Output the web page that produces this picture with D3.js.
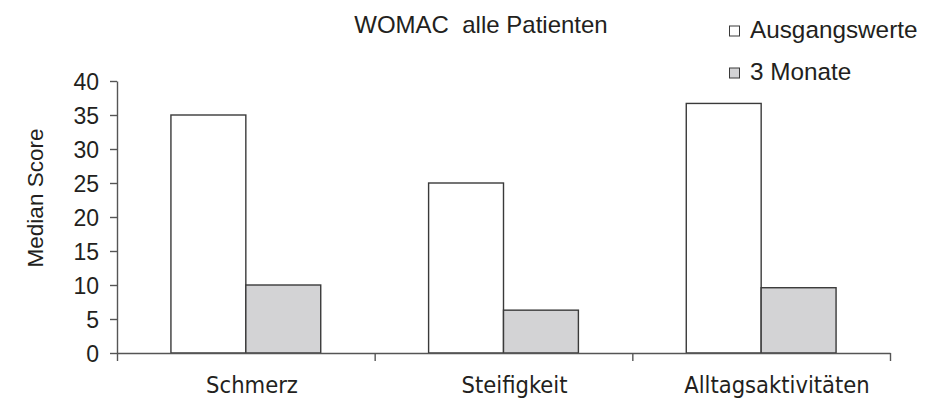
<!DOCTYPE html>
<html>
<head>
<meta charset="utf-8">
<script src="https://cdn.jsdelivr.net/npm/d3@7"></script>
<style>
  html, body { margin: 0; padding: 0; background: #fff; }
  svg { display: block; }
  .sans { font-family: "Liberation Sans", Arial, sans-serif; fill: #231f20; }
  .cond { font-family: "DejaVu Sans Condensed", "DejaVu Sans", sans-serif; font-stretch: condensed; fill: #231f20; }
</style>
</head>
<body>
<svg id="chart" width="943" height="412"></svg>
<script>
// WOMAC median scores, all patients
const categories = ["Schmerz", "Steifigkeit", "Alltagsaktivitäten"];
const seriesNames = ["Ausgangswerte", "3 Monate"];
const baseline = [35, 25, 36.7];
const threeMonths = [10, 6.3, 9.6];
const yTicks = [0, 5, 10, 15, 20, 25, 30, 35, 40];

const seriesValues = [baseline, threeMonths];
const fills = ["#ffffff", "#d3d3d5"];

const svg = d3.select("#chart");
const plotLeft = 117, plotRight = 890, plotTop = 81, plotBottom = 353;

const y = d3.scaleLinear().domain([0, 40]).range([plotBottom, plotTop]);
const x0 = d3.scaleBand().domain(categories).range([plotLeft, plotRight]).padding(0);
const x1 = d3.scaleBand().domain(seriesNames).range([0, x0.bandwidth()])
  .paddingInner(0).paddingOuter(0.72);

// category boundaries for the x axis ticks
const xEdges = d3.scaleLinear().domain([0, categories.length]).range([plotLeft, plotRight]);
// category label positions
const xLabel = d3.scalePoint().domain(categories).range([252, 777]);

// bars
const groups = svg.append("g").selectAll("g")
  .data(categories)
  .join("g")
  .attr("transform", d => `translate(${x0(d)},0)`);

groups.selectAll("rect")
  .data((c, i) => seriesNames.map((s, k) => ({ s, k, v: seriesValues[k][i] })))
  .join("rect")
  .attr("x", d => x1(d.s))
  .attr("y", d => y(d.v))
  .attr("width", x1.bandwidth())
  .attr("height", d => y(0) - y(d.v))
  .attr("fill", d => fills[d.k])
  .attr("stroke", "#3a3a3a")
  .attr("stroke-width", 1.4);

// y axis
const yAxis = svg.append("g")
  .attr("transform", `translate(${plotLeft},0)`)
  .call(d3.axisLeft(y).tickValues(yTicks).tickSize(7).tickPadding(11).tickSizeOuter(0));
yAxis.selectAll("path, line").attr("stroke", "#555").attr("stroke-width", 1.4);
yAxis.selectAll("text").attr("class", "sans").attr("font-size", 23).attr("dy", "0.36em");

// x axis
const xAxis = svg.append("g")
  .attr("transform", `translate(0,${plotBottom})`)
  .call(d3.axisBottom(xEdges).tickValues(d3.range(0, categories.length + 1))
    .tickFormat("").tickSize(8).tickSizeOuter(0));
xAxis.selectAll("path, line").attr("stroke", "#555").attr("stroke-width", 1.4);

// category labels
svg.append("g").selectAll("text")
  .data(categories)
  .join("text")
  .attr("class", "cond")
  .attr("x", d => xLabel(d))
  .attr("y", 393)
  .attr("text-anchor", "middle")
  .attr("font-size", 23.5)
  .text(d => d);

// y axis title
svg.append("text")
  .attr("class", "sans")
  .attr("transform", "translate(43,198) rotate(-90)")
  .attr("text-anchor", "middle")
  .attr("font-size", 22.5)
  .text("Median Score");

// chart title
svg.append("text")
  .attr("class", "sans")
  .attr("x", 481)
  .attr("y", 33)
  .attr("text-anchor", "middle")
  .attr("font-size", 24)
  .attr("xml:space", "preserve")
  .style("white-space", "pre")
  .text("WOMAC  alle Patienten");

// legend
const legend = svg.append("g").selectAll("g")
  .data(seriesNames)
  .join("g")
  .attr("transform", (d, i) => `translate(729,${38 + i * 42})`);
legend.append("rect")
  .attr("x", 0.5)
  .attr("y", -12)
  .attr("width", 10)
  .attr("height", 10)
  .attr("fill", (d, i) => fills[i])
  .attr("stroke", "#3a3a3a")
  .attr("stroke-width", 1);
legend.append("text")
  .attr("class", "sans")
  .attr("x", 21)
  .attr("y", 0)
  .attr("font-size", 24.3)
  .text(d => d);
</script>
</body>
</html>
